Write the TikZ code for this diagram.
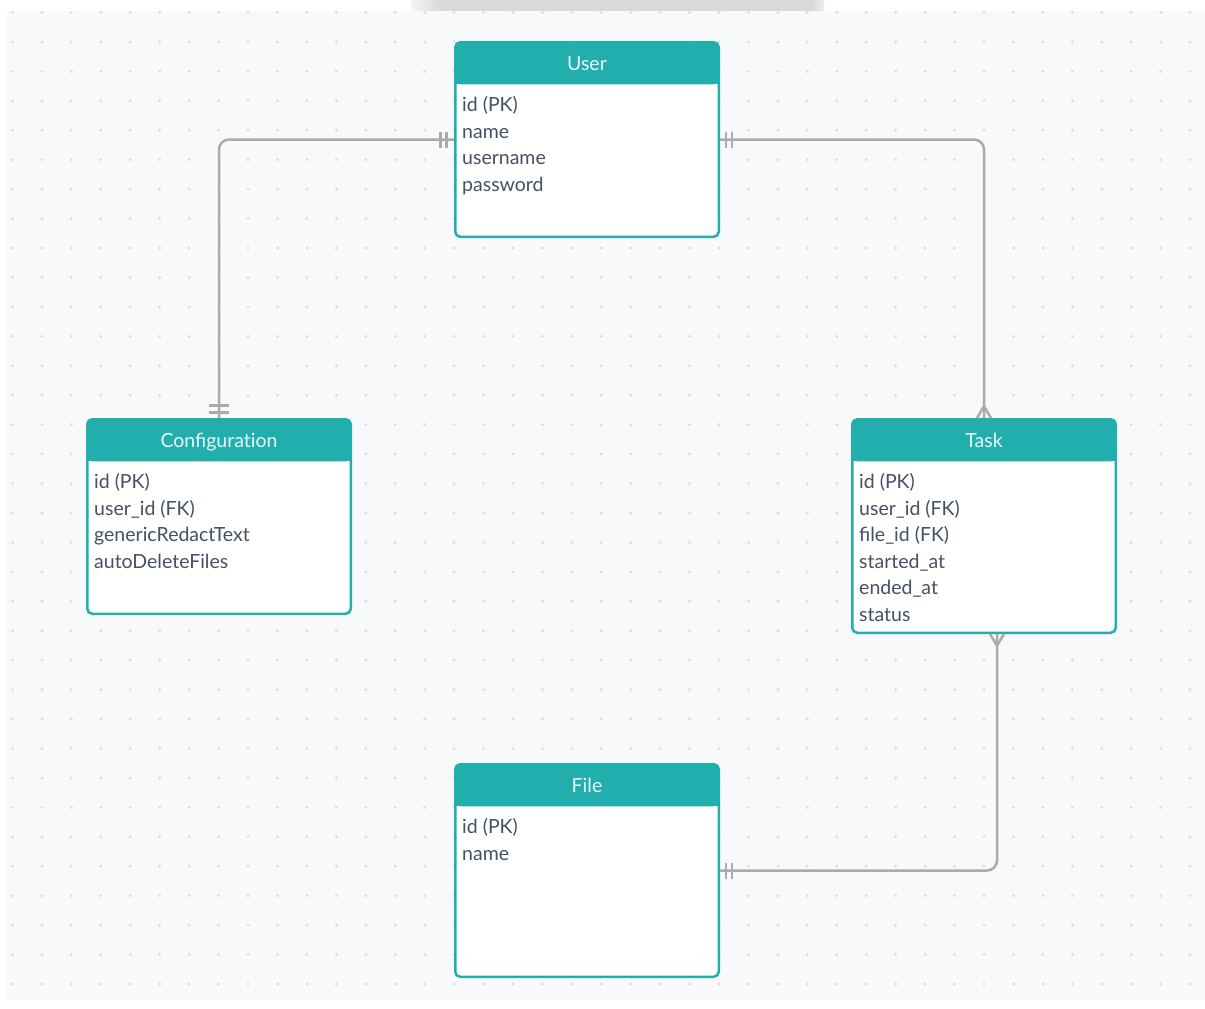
\documentclass[tikz,border=0pt]{standalone}
\usepackage{fontspec}
\setmainfont{Lato}
\usetikzlibrary{calc}

\definecolor{erteal}{HTML}{22AEAD}
\definecolor{ertext}{HTML}{465064}
\definecolor{erhead}{HTML}{E8F8F7}
\definecolor{erline}{HTML}{ABABAB}
\definecolor{canvas}{HTML}{F8F9FB}
\definecolor{griddot}{HTML}{DCDDE1}
\definecolor{topbar}{HTML}{DADADA}

\tikzset{
  entity/.style={draw=erteal, fill=white, line width=2.5pt, rounded corners=5pt,
    outer sep=0pt, inner sep=0pt, minimum width=263.5pt},
  headtext/.style={text=erhead, font=\fontsize{19.5}{21}\selectfont, anchor=base, inner sep=0pt},
  rowtext/.style={text=ertext, font=\fontsize{19.5}{21}\selectfont, anchor=base west, inner sep=0pt},
  conn/.style={draw=erline, line width=2.5pt},
}

\begin{document}
\begin{tikzpicture}[x=1pt, y=-1pt]
\useasboundingbox (0,0) rectangle (1205,1009);

% top bar
\fill[topbar] (440,0) rectangle (812,11);
\shade[left color=topbar!30, right color=topbar] (411,0) rectangle (440,11);
\shade[left color=topbar, right color=topbar!50] (812,0) rectangle (824,11);

% dotted canvas
\begin{scope}
  \clip (7,11) rectangle (1205,1000);
  \fill[canvas] (7,11) rectangle (1205,1000);
  \foreach \i in {0,...,40}
    \foreach \j in {0,...,33}
      \fill[griddot] (12.5+29.44*\i, 12.5+29.44*\j) circle (1.6);
\end{scope}

% entities
\node[entity, minimum height=194.5pt] (user)   at (587,139.5) {};
\node[entity, minimum height=194.5pt] (config) at (219,516.5) {};
\node[entity, minimum height=213.5pt] (task)   at (984,526) {};
\node[entity, minimum height=212.5pt] (file)   at (587,870.5) {};

% header bands
\foreach \e in {user,config,task,file} {
  \fill[erteal, rounded corners=5pt] (\e.north west) rectangle ($(\e.north east)+(0,42)$);
  \fill[erteal] ($(\e.north west)+(0,20)$) rectangle ($(\e.north east)+(0,42)$);
}

% titles
\node[headtext] (user-title)   at ($(user.north)+(0,28.5)$)   {User};
\node[headtext] (config-title) at ($(config.north)+(0,28.5)$) {Configurat\kern0pt ion};
\node[headtext] (task-title)   at ($(task.north)+(0,28.5)$)   {Task};
\node[headtext] (file-title)   at ($(file.north)+(0,28.5)$)   {File};

% attribute rows
\foreach \t [count=\k] in {id (PK), name, username, password}
  \node[rowtext] (user-r\k) at ($(user.north west)+(6.75,69.25+26.6*\k-26.6)$) {\t};
\foreach \t [count=\k] in {id (PK), user\_id (FK), genericRedactText, autoDeleteFiles}
  \node[rowtext] (config-r\k) at ($(config.north west)+(6.75,69.25+26.6*\k-26.6)$) {\t};
\foreach \t [count=\k] in {id (PK), user\_id (FK), file\_id (FK), started\_at, ended\_at, status}
  \node[rowtext] (task-r\k) at ($(task.north west)+(6.75,69.25+26.6*\k-26.6)$) {\t};
\foreach \t [count=\k] in {id (PK), name}
  \node[rowtext] (file-r\k) at ($(file.north west)+(6.75,69.25+26.6*\k-26.6)$) {\t};

% connectors
\draw[conn, rounded corners=10pt] ($(user.west)+(-1.25,0)$) -| ($(config.north)+(0,-1.25)$);
\draw[conn, rounded corners=10pt] ($(user.east)+(1.25,0)$) -| ($(task.north)+(0,-1.25)$);
\draw[conn, rounded corners=10pt] ($(file.east)+(1.25,0)$) -| ($(task.south)+(13,1.25)$);

% User -- Configuration: one and only one at both ends
\draw[conn] ($(user.west)+(-9,-8)$) -- ++(0,16);
\draw[conn] ($(user.west)+(-15,-8)$) -- ++(0,16);
\draw[conn] ($(config.north)+(-10,-7)$) -- ++(20,0);
\draw[conn] ($(config.north)+(-10,-14)$) -- ++(20,0);

% User -- Task: one to many
\draw[conn] ($(user.east)+(7,-8)$) -- ++(0,16);
\draw[conn] ($(user.east)+(13,-8)$) -- ++(0,16);
\draw[conn] ($(task.north)+(-7,-1.25)$) -- ($(task.north)+(0,-13)$) -- ($(task.north)+(7,-1.25)$);

% File -- Task: one to many
\draw[conn] ($(file.east)+(7,-8)$) -- ++(0,16);
\draw[conn] ($(file.east)+(13,-8)$) -- ++(0,16);
\draw[conn] ($(task.south)+(6,1.25)$) -- ($(task.south)+(13,13)$) -- ($(task.south)+(20,1.25)$);

\end{tikzpicture}
\end{document}
